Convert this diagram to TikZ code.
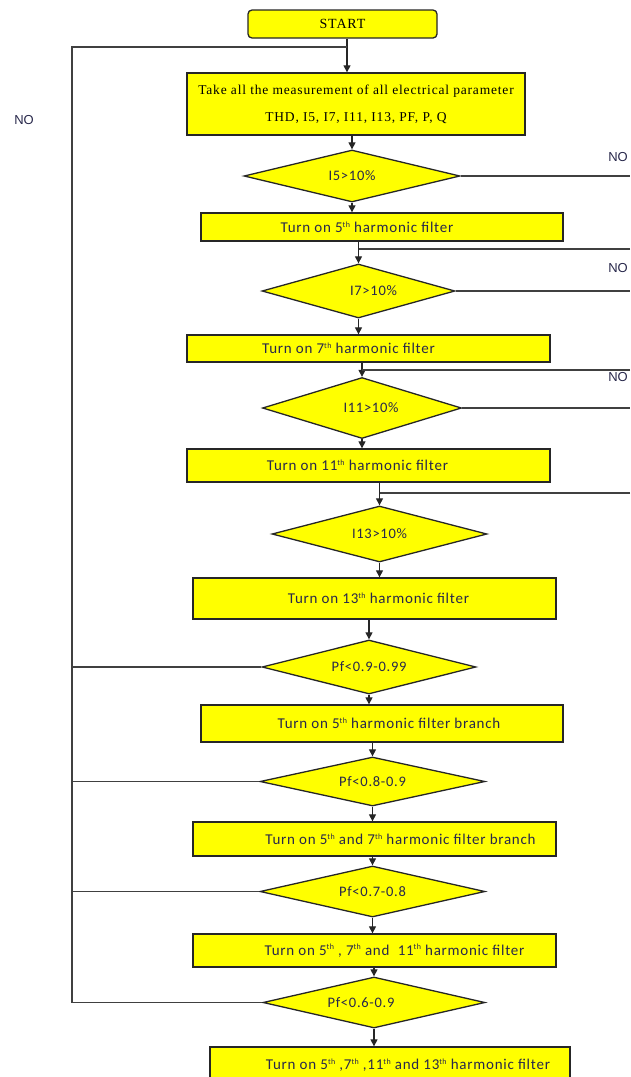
\documentclass[tikz,border=0pt]{standalone}
\usepackage{fontspec}
\newfontfamily\measfont[LetterSpace=6]{Liberation Serif}
\newfontfamily\flowfont[LetterSpace=5]{Carlito}
\newfontfamily\nofont{Liberation Sans}
\usetikzlibrary{shapes.geometric,arrows.meta}

\definecolor{boxyellow}{RGB}{255,255,0}
\definecolor{inkblue}{RGB}{40,40,75}

\newcommand{\ordsup}[1]{\raisebox{0.75ex}{\fontsize{8}{8}\selectfont #1}}

\tikzset{
  flowshape/.style={draw=black!85, line width=1.3pt, fill=boxyellow, inner sep=0pt},
  startbox/.style={flowshape, rectangle, rounded corners=4pt, font=\measfont\fontsize{14}{16}\selectfont},
  measbox/.style={flowshape, rectangle, align=center, font=\measfont\fontsize{13.5}{16}\selectfont},
  procbox/.style={flowshape, rectangle, text=inkblue, font=\flowfont\fontsize{15}{17}\selectfont},
  testbox/.style={flowshape, diamond, aspect=4, text=inkblue, font=\flowfont\fontsize{14.5}{16}\selectfont},
  arr/.style={draw=black!85, line width=1.1pt, -{Triangle[length=7pt,width=7pt]}},
  wire/.style={draw=black!75, line width=1.1pt},
  nolabel/.style={text=inkblue, font=\nofont\fontsize{13}{15}\selectfont}
}

\begin{document}
\begin{tikzpicture}[x=1pt,y=-1pt]
\useasboundingbox (0,0) rectangle (630,1077);

% main column
\node[startbox, minimum width=189pt, minimum height=28pt] (start) at (342.5,24) {START};
\node[measbox, minimum width=338pt, minimum height=62pt] (meas) at (356,104)
  {Take all the measurement of all electrical parameter\\[11pt] THD, I5, I7, I11, I13, PF, P, Q};
\node[testbox, minimum width=216pt, minimum height=52pt] (i5) at (352,176) {I5>10\%};
\node[procbox, minimum width=362pt, minimum height=28pt] (on5) at (382,227)
  {Turn on 5\ordsup{th} harmonic filter\hspace*{30pt}};
\node[testbox, minimum width=193pt, minimum height=54pt] (i7) at (358.5,291) {\hspace*{30pt}I7>10\%};
\node[procbox, minimum width=363pt, minimum height=27pt] (on7) at (368.5,348.5)
  {Turn on 7\ordsup{th} harmonic filter\hspace*{40pt}};
\node[testbox, minimum width=199pt, minimum height=61pt] (i11) at (362,408) {\hspace*{18pt}I11>10\%};
\node[procbox, minimum width=363pt, minimum height=33pt] (on11) at (368.5,465.5)
  {Turn on 11\ordsup{th} harmonic filter\hspace*{22pt}};
\node[testbox, minimum width=215pt, minimum height=56pt] (i13) at (379.5,534) {I13>10\%};
\node[procbox, minimum width=363pt, minimum height=41pt] (on13) at (374.5,598.5)
  {\hspace*{8pt}Turn on 13\ordsup{th} harmonic filter};
\node[testbox, minimum width=214pt, minimum height=54pt] (pf1) at (369,667) {Pf<0.9-0.99};
\node[procbox, minimum width=362pt, minimum height=37pt] (br1) at (382,723.5)
  {\hspace*{14pt}Turn on 5\ordsup{th} harmonic filter branch};
\node[testbox, minimum width=225pt, minimum height=49pt] (pf2) at (372.5,781.5) {Pf<0.8-0.9};
\node[procbox, minimum width=363pt, minimum height=34pt] (br2) at (374.5,839)
  {\hspace*{52pt}Turn on 5\ordsup{th} and 7\ordsup{th} harmonic filter branch};
\node[testbox, minimum width=225pt, minimum height=51pt] (pf3) at (372.5,891.5) {Pf<0.7-0.8};
\node[procbox, minimum width=363pt, minimum height=33pt] (br3) at (374.5,950.5)
  {\hspace*{40pt}Turn on 5\ordsup{th} , 7\ordsup{th} and\ \ 11\ordsup{th} harmonic filter};
\node[testbox, minimum width=222pt, minimum height=51pt] (pf4) at (374,1002.5) {Pf<0.6-0.9\hspace*{26pt}};
\node[procbox, minimum width=360pt, minimum height=36pt] (br4) at (390,1065)
  {\hspace*{36pt}Turn on 5\ordsup{th} ,7\ordsup{th} ,11\ordsup{th} and 13\ordsup{th} harmonic filter};

% NO labels
\node[nolabel] (no0) at (24,120) {NO};
\node[nolabel] (no1) at (618,157) {NO};
\node[nolabel] (no2) at (618,268) {NO};
\node[nolabel] (no3) at (618,377) {NO};

% junctions
\coordinate (j0) at (347,47);
\coordinate (lt) at (72,47);
\coordinate (r1) at (630,249);
\coordinate (r2) at (630,370);
\coordinate (r3) at (630,493);

% downward flow
\draw[arr] (start.south -| j0) -- (j0 |- meas.north);
\draw[arr] (i5.north |- meas.south) -- (i5.north);
\draw[arr] (i5.south) -- (i5.south |- on5.north);
\draw[arr] (i7.north |- on5.south) -- (i7.north);
\draw[arr] (i7.south) -- (i7.south |- on7.north);
\draw[arr] (i11.north |- on7.south) -- (i11.north);
\draw[arr] (i11.south) -- (i11.south |- on11.north);
\draw[arr] (i13.north |- on11.south) -- (i13.north);
\draw[arr] (i13.south) -- (i13.south |- on13.north);
\draw[arr] (pf1.north |- on13.south) -- (pf1.north);
\draw[arr] (pf1.south) -- (pf1.south |- br1.north);
\draw[arr] (pf2.north |- br1.south) -- (pf2.north);
\draw[arr] (pf2.south) -- (pf2.south |- br2.north);
\draw[arr] (pf3.north |- br2.south) -- (pf3.north);
\draw[arr] (pf3.south) -- (pf3.south |- br3.north);
\draw[arr] (pf4.north |- br3.south) -- (pf4.north);
\draw[arr] (pf4.south) -- (pf4.south |- br4.north);

% right NO branches
\draw[wire] (i5.east) -- (i5.east -| r1);
\draw[wire] (i7.east) -- (i7.east -| r1);
\draw[wire] (i11.east) -- (i11.east -| r1);
\draw[wire] (r1) -- (r1 -| i7.north);
\draw[wire] (r2) -- (r2 -| i11.north);
\draw[wire] (r3) -- (r3 -| i13.north);

% left NO loop
\draw[wire] (j0) -- (lt) -- (lt |- pf4.west) -- (pf4.west);
\draw[wire] (pf1.west) -- (pf1.west -| lt);
\draw[wire] (pf2.west) -- (pf2.west -| lt);
\draw[wire] (pf3.west) -- (pf3.west -| lt);
\end{tikzpicture}
\end{document}
